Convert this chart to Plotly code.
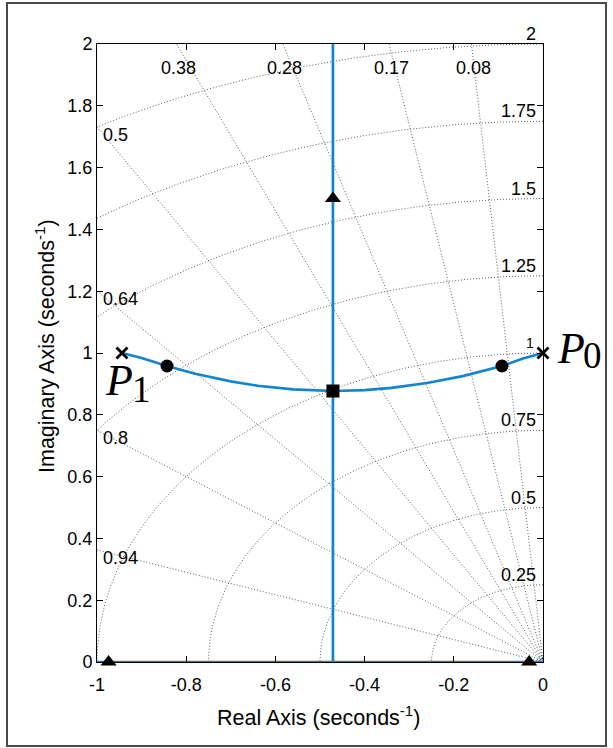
import numpy as np
import plotly.graph_objects as go

# ---- data ----
locus_x = [-0.944, -0.90, -0.843, -0.78, -0.70, -0.64, -0.56, -0.471, -0.40, -0.34, -0.26, -0.18, -0.092, -0.045, 0.0]
locus_y = [1.000, 0.984, 0.958, 0.933, 0.908, 0.894, 0.882, 0.877, 0.880, 0.887, 0.903, 0.925, 0.958, 0.982, 1.000]
vert_x = [-0.471, -0.471]
vert_y = [0.0, 2.0]
real_x = [-1.0, 0.0]
real_y = [0.0, 0.0]
pole_x = [0.0, -0.944]
pole_y = [1.0, 1.0]
circ_x = [-0.843, -0.092]
circ_y = [0.958, 0.958]
sq_x = [-0.471]
sq_y = [0.877]
tri_x = [-0.974, -0.031, -0.471]
tri_y = [0.0, 0.0, 1.5]

zetas = [0.08, 0.17, 0.28, 0.38, 0.5, 0.64, 0.8, 0.94]
zeta_labels = ["0.08", "0.17", "0.28", "0.38", "0.5", "0.64", "0.8", "0.94"]
wns = [0.25, 0.5, 0.75, 1.0, 1.25, 1.5, 1.75, 2.0]
wn_labels = ["0.25", "0.5", "0.75", "1", "1.25", "1.5", "1.75", "2"]
tiny_wns = [0.005, 0.01, 0.015]

xtick_vals = [-1, -0.8, -0.6, -0.4, -0.2, 0]
xtick_text = ["-1", "-0.8", "-0.6", "-0.4", "-0.2", "0"]
ytick_vals = [0, 0.2, 0.4, 0.6, 0.8, 1, 1.2, 1.4, 1.6, 1.8, 2]
ytick_text = ["0", "0.2", "0.4", "0.6", "0.8", "1", "1.2", "1.4", "1.6", "1.8", "2"]

W, H = 613, 748
L, R, T, B = 97, 543, 44, 662
BLUE = "#1285d0"
GRID = "rgba(40,40,40,0.75)"
FONT = "Liberation Sans, Arial, Helvetica, sans-serif"
SERIF = "Liberation Serif, DejaVu Serif, serif"
FS = 18

def px2px(px):
    return (px - L) / (R - L)

def py2py(py):
    return (B - py) / (B - T)

fig = go.Figure()

grid_line = dict(color=GRID, width=1, dash="1px,2px")
# sgrid damping lines
for z in zetas:
    rr = 3.0
    fig.add_trace(go.Scatter(x=[0, -rr * z], y=[0, rr * np.sqrt(1 - z * z)], mode="lines",
                             line=grid_line, hoverinfo="skip", showlegend=False))
# sgrid frequency circles
th = np.linspace(np.pi / 2, np.pi, 200)
for w in wns + tiny_wns:
    fig.add_trace(go.Scatter(x=w * np.cos(th), y=w * np.sin(th), mode="lines",
                             line=grid_line, hoverinfo="skip", showlegend=False))

# locus branches
fig.add_trace(go.Scatter(x=real_x, y=real_y, mode="lines", line=dict(color=BLUE, width=2.7), showlegend=False))
fig.add_trace(go.Scatter(x=vert_x, y=vert_y, mode="lines", line=dict(color=BLUE, width=2.7), showlegend=False))
fig.add_trace(go.Scatter(x=locus_x, y=locus_y, mode="lines", line=dict(color=BLUE, width=2.7), showlegend=False))

# markers
fig.add_trace(go.Scatter(x=pole_x, y=pole_y, mode="markers",
                         marker=dict(symbol="x-thin", size=11, line=dict(color="black", width=2.8)), showlegend=False, cliponaxis=False))
fig.add_trace(go.Scatter(x=circ_x, y=circ_y, mode="markers",
                         marker=dict(symbol="circle", size=13, color="black"), showlegend=False))
fig.add_trace(go.Scatter(x=sq_x, y=sq_y, mode="markers",
                         marker=dict(symbol="square", size=13, color="black"), showlegend=False))
fig.add_trace(go.Scatter(x=tri_x, y=tri_y, mode="markers",
                         marker=dict(symbol="triangle-up", size=14, color="black"), showlegend=False, cliponaxis=False))

ann = []
# damping labels
for z, lab in zip(zetas, zeta_labels):
    s = np.sqrt(1 - z * z)
    yb = s / z  # y where line hits x=-1
    if yb <= 2:
        ann.append(dict(x=-1, y=yb, text=lab, xanchor="left", yanchor="middle", xshift=4, yshift=-8,
                        showarrow=False, font=dict(family=FONT, size=FS, color="black")))
    else:
        xt = -2 * z / s
        ann.append(dict(x=xt, y=2, text=lab, xanchor="center", yanchor="middle", xshift=2, yshift=-24,
                        showarrow=False, font=dict(family=FONT, size=FS, color="black")))
# frequency labels
for w, lab in zip(wns, wn_labels):
    sz = 14 if lab == "1" else FS
    ann.append(dict(x=0, y=w, text=lab, xanchor="right", yanchor="bottom", xshift=-5 if lab != "1" else -7,
                    yshift=-2 if lab != "1" else 0,
                    showarrow=False, font=dict(family=FONT, size=sz, color="black")))

# P labels
ann.append(dict(x=px2px(555), y=py2py(348), xref="paper", yref="paper", text="<i>P</i>", xanchor="left", yanchor="middle",
                showarrow=False, font=dict(family=SERIF, size=44, color="black")))
ann.append(dict(x=px2px(581), y=py2py(355), xref="paper", yref="paper", text="0", xanchor="left", yanchor="middle",
                showarrow=False, font=dict(family=SERIF, size=37, color="black")))
ann.append(dict(x=px2px(103), y=py2py(380), xref="paper", yref="paper", text="<i>P</i>", xanchor="left", yanchor="middle",
                showarrow=False, font=dict(family=SERIF, size=44, color="black")))
ann.append(dict(x=px2px(130), y=py2py(389), xref="paper", yref="paper", text="1", xanchor="left", yanchor="middle",
                showarrow=False, font=dict(family=SERIF, size=37, color="black")))

# axis titles
ann.append(dict(x=px2px(318), y=py2py(716), xref="paper", yref="paper", text="Real Axis (seconds<sup>-1</sup>)",
                xanchor="center", yanchor="middle", showarrow=False, font=dict(family=FONT, size=21.5, color="black")))
ann.append(dict(x=px2px(45), y=py2py(346), xref="paper", yref="paper", text="Imaginary Axis (seconds<sup>-1</sup>)",
                xanchor="center", yanchor="middle", textangle=-90, showarrow=False, font=dict(family=FONT, size=21.5, color="black")))

shapes = [dict(type="rect", xref="paper", yref="paper", x0=px2px(7), x1=px2px(606), y0=py2py(746), y1=py2py(3),
               line=dict(color="#4a4a4a", width=2), fillcolor="rgba(0,0,0,0)", layer="below")]

axis_common = dict(showgrid=False, zeroline=False, showline=True, linecolor="black", linewidth=1,
                   mirror="ticks", ticks="inside", ticklen=6, tickwidth=1, tickcolor="black",
                   tickfont=dict(family=FONT, size=FS, color="black"))

fig.update_layout(
    width=W, height=H,
    margin=dict(l=L, r=W - R, t=T, b=H - B),
    paper_bgcolor="white", plot_bgcolor="white",
    xaxis=dict(range=[-1, 0], tickvals=xtick_vals, ticktext=xtick_text, ticklabelstandoff=6, **axis_common),
    yaxis=dict(range=[0, 2], tickvals=ytick_vals, ticktext=ytick_text, **axis_common),
    annotations=ann, shapes=shapes, showlegend=False,
)

fig.write_html("out.html")
